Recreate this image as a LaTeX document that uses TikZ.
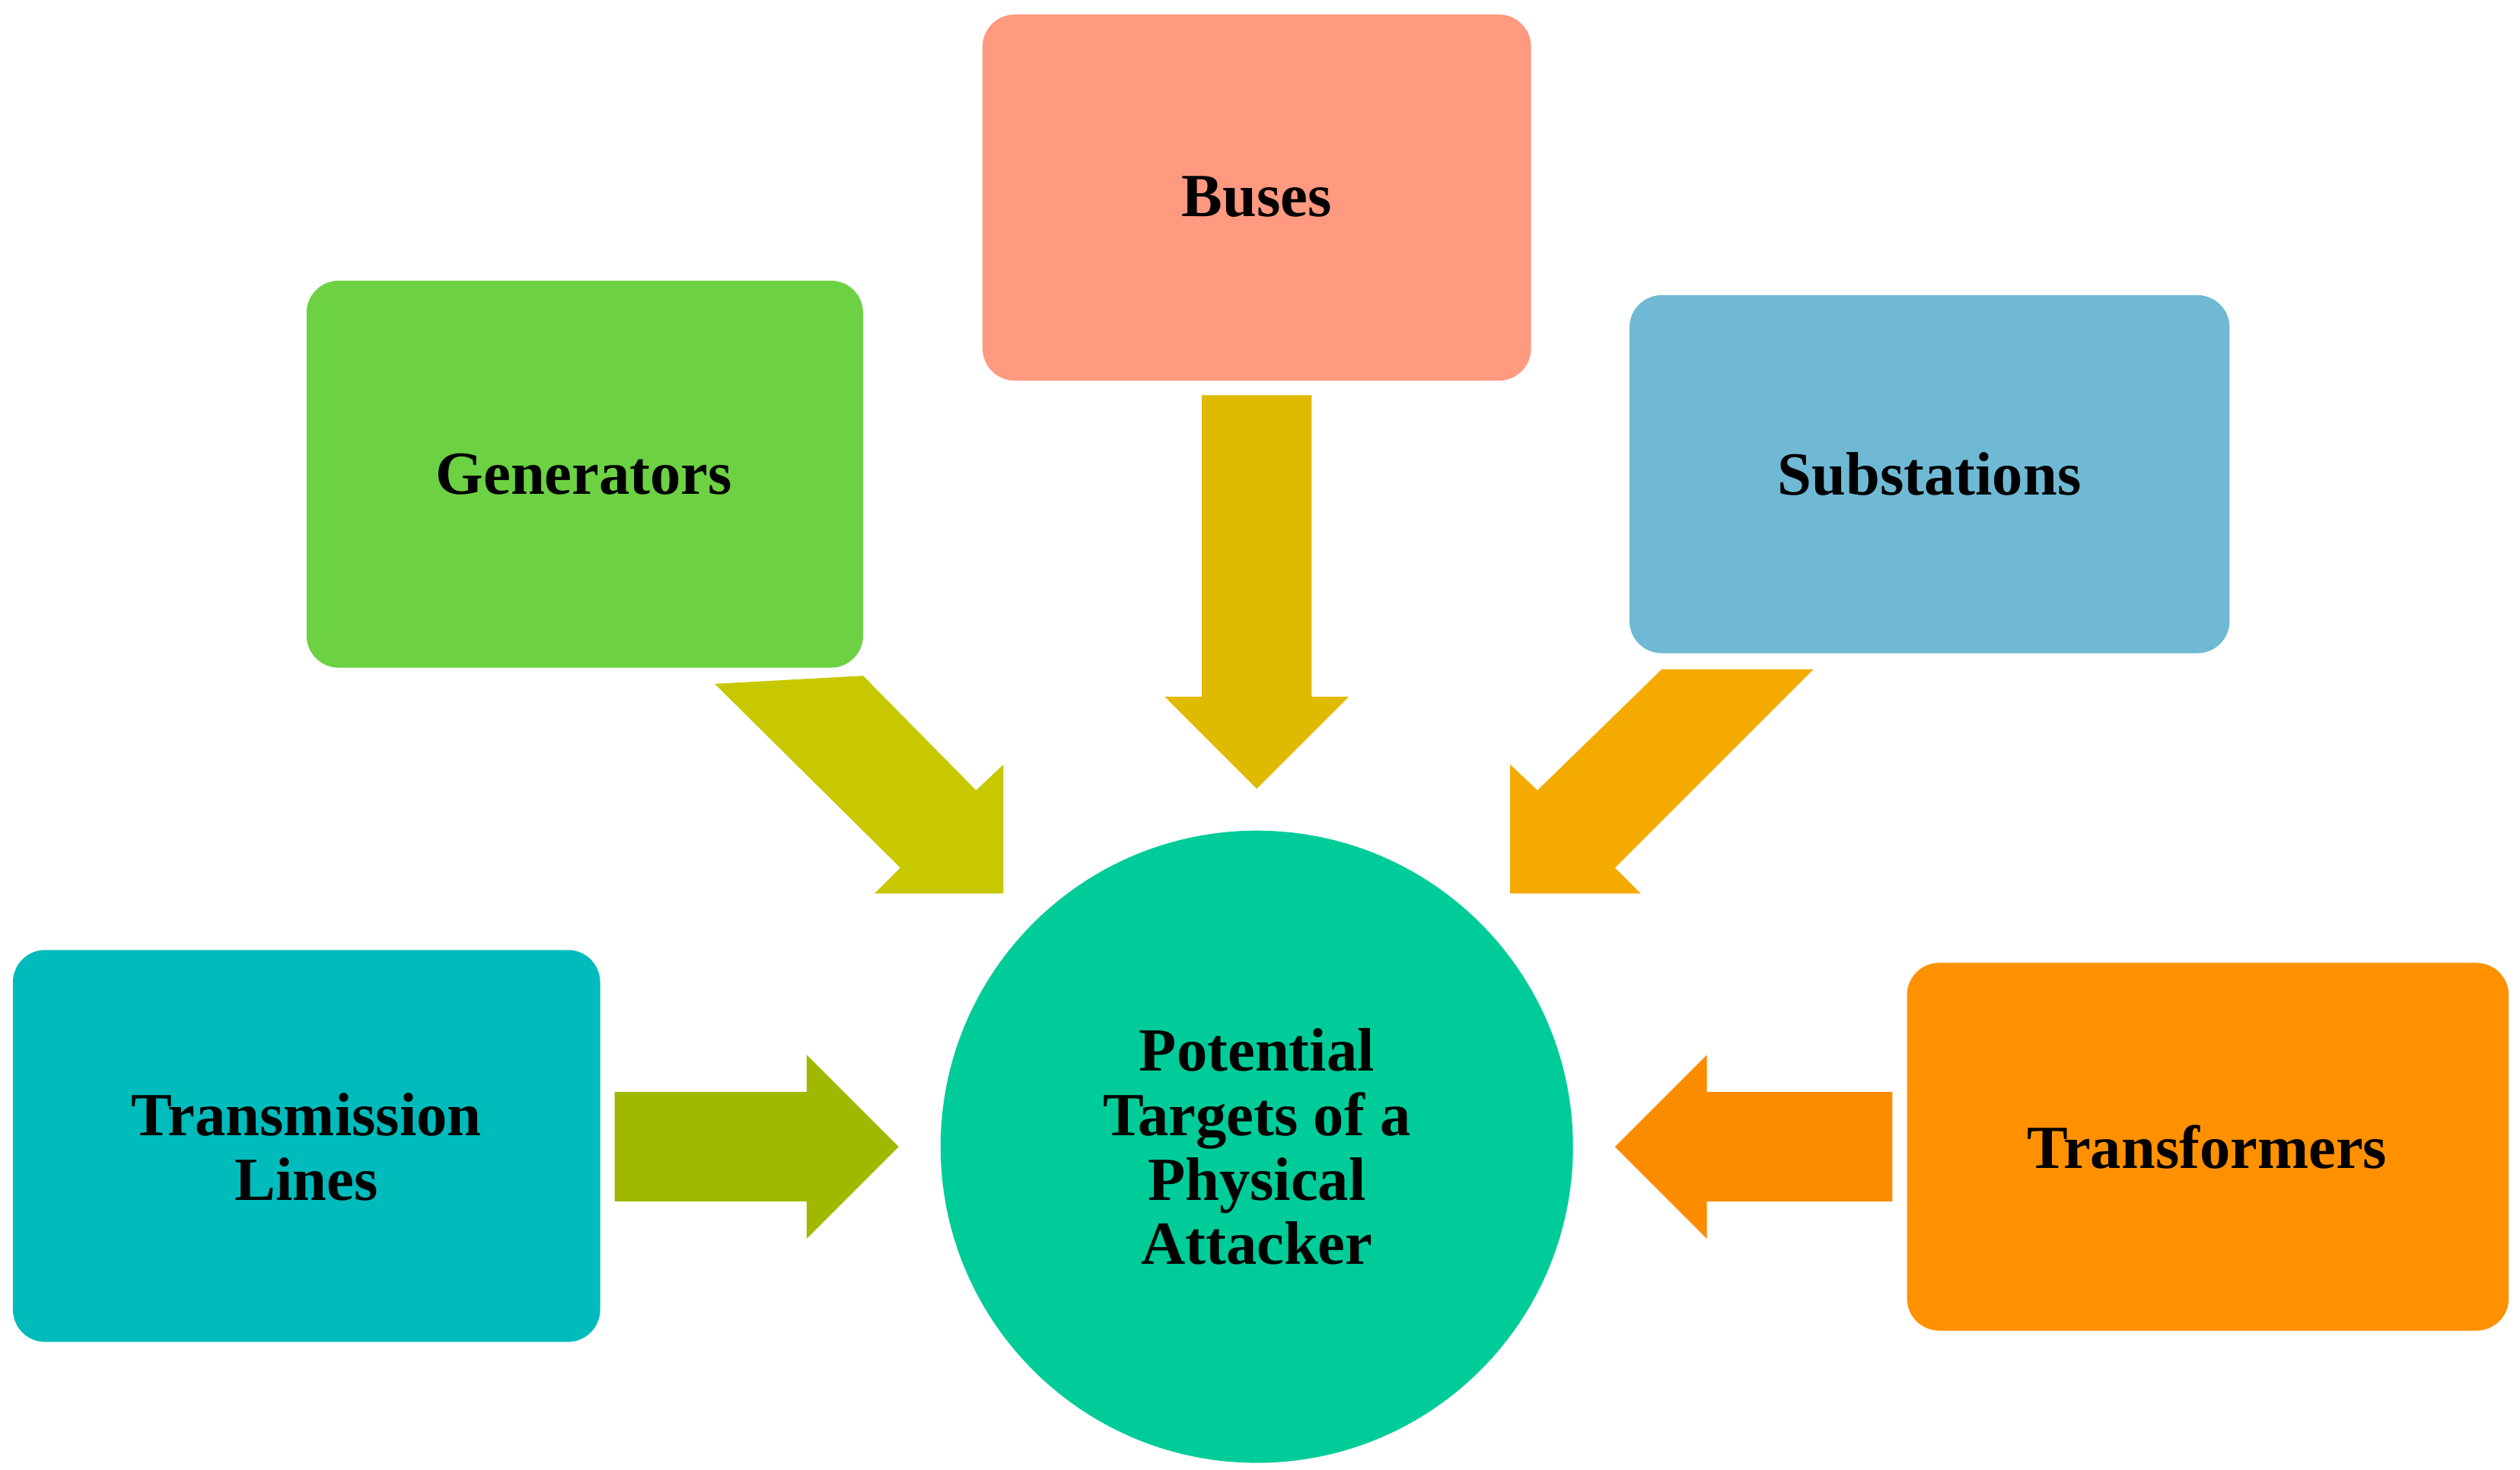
\documentclass[tikz,border=0pt]{standalone}
\usepackage{fontspec}
\setmainfont{Liberation Serif}
\begin{document}
\begin{tikzpicture}[x=1pt,y=-1pt,
  box/.style={rounded corners=20pt,inner sep=0pt},
  lbl/.style={font=\fontsize{38}{44}\selectfont\bfseries,align=center}]
\useasboundingbox (0,0) rectangle (1562,911);
\definecolor{cbus}{HTML}{FF9980}
\definecolor{cgen}{HTML}{6DD144}
\definecolor{csub}{HTML}{6FB9D4}
\definecolor{ctra}{HTML}{00BBBB}
\definecolor{ctrf}{HTML}{FF9100}
\definecolor{ccir}{HTML}{00CC99}
\definecolor{abus}{HTML}{E0BA00}
\definecolor{agen}{HTML}{C8C800}
\definecolor{asub}{HTML}{F5AA00}
\definecolor{atra}{HTML}{A0B800}
\definecolor{atrf}{HTML}{FB8C00}
\fill[cbus,box] (609,9) rectangle (949,236);
\fill[cgen,box] (190,174) rectangle (535,414);
\fill[csub,box] (1010,183) rectangle (1382,405);
\fill[ctra,box] (8,589) rectangle (372,832);
\fill[ctrf,box] (1182,597) rectangle (1555,825);
\fill[ccir] (779,711) circle (196);
\node[lbl] (bus) at (779,122) {Buses};
\node[lbl] (gen) at (362,294) {Generators};
\node[lbl] (sub) at (1196,294) {Substations};
\node[lbl] (tra) at (190,711) {Transmission\\[-4pt]Lines};
\node[lbl] (trf) at (1368,711) {Transformers};
\node[lbl] (ctr) at (779,711) {Potential\\[-4pt]Targets of a\\[-4pt]Physical\\[-4pt]Attacker};
% arrows
\fill[abus] (745,245) -- (813,245) -- (813,432) -- (836,432) -- (779,489) -- (722,432) -- (745,432) -- cycle;
\fill[atra] (381,677) -- (500,677) -- (500,654) -- (557,711) -- (500,768) -- (500,745) -- (381,745) -- cycle;
\fill[atrf] (1173,677) -- (1058,677) -- (1058,654) -- (1001,711) -- (1058,768) -- (1058,745) -- (1173,745) -- cycle;
\fill[agen] (443,424) -- (535,419) -- (605,490) -- (622,474) -- (622,554) -- (542,554) -- (558,538) -- cycle;
\fill[asub] (1124,415) -- (1030,415) -- (953,490) -- (936,474) -- (936,554) -- (1017,554) -- (1001,538) -- cycle;
\end{tikzpicture}
\end{document}
